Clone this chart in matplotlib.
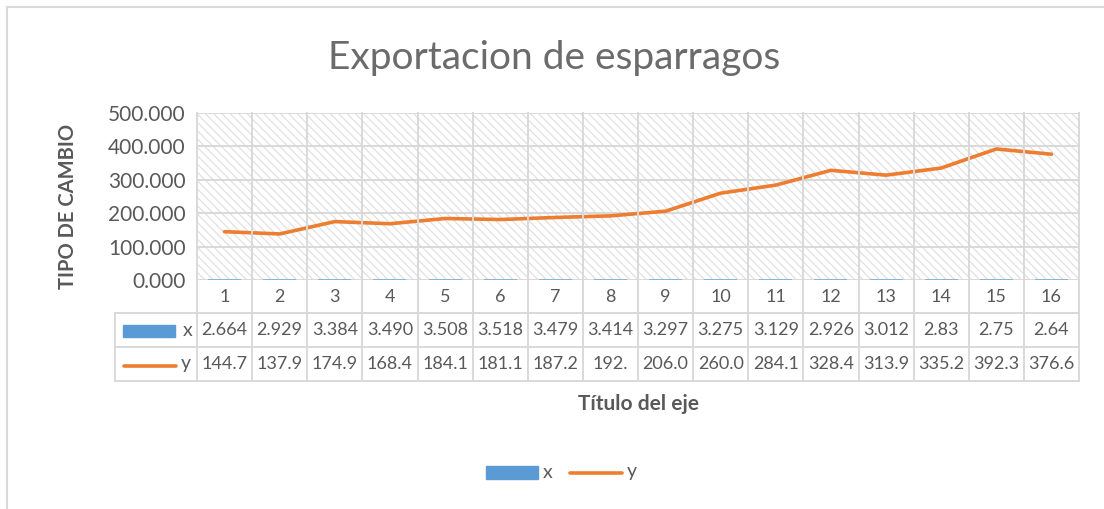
import matplotlib
matplotlib.use("Agg")
import matplotlib.pyplot as plt
import matplotlib.transforms as mtransforms
from matplotlib.patches import Rectangle
from matplotlib.lines import Line2D

# datos
periods = list(range(1, 17))
x_vals = [2.664, 2.929, 3.384, 3.490, 3.508, 3.518, 3.479, 3.414,
          3.297, 3.275, 3.129, 2.926, 3.012, 2.83, 2.75, 2.64]
y_vals = [144.7, 137.9, 174.9, 168.4, 184.1, 181.1, 187.2, 192.0,
          206.0, 260.0, 284.1, 328.4, 313.9, 335.2, 392.3, 376.6]
x_labels = ["2.664", "2.929", "3.384", "3.490", "3.508", "3.518", "3.479", "3.414",
            "3.297", "3.275", "3.129", "2.926", "3.012", "2.83", "2.75", "2.64"]
y_labels = ["144.7", "137.9", "174.9", "168.4", "184.1", "181.1", "187.2", "192.",
            "206.0", "260.0", "284.1", "328.4", "313.9", "335.2", "392.3", "376.6"]
y_ticks = [0, 100, 200, 300, 400, 500]

plt.rcParams['font.family'] = ['Lato', 'DejaVu Sans']
plt.rcParams['hatch.linewidth'] = 0.8
plt.rcParams['hatch.color'] = '#dedede'

W, H = 1104, 509
TXT = '#595959'
GRID = '#d9d9d9'
BLUE = '#5b9bd5'
ORANGE = '#ed7d31'

fig = plt.figure(figsize=(W / 100, H / 100), dpi=100)


def fx(px):
    return px / W


def fy(py):
    return 1 - py / H


L, R, T, B = 197, 1079, 113, 280
ax = fig.add_axes([fx(L), fy(B), fx(R - L), (B - T) / H])

# fondo rayado
ax.add_patch(Rectangle((0, 0), 1, 1, transform=ax.transAxes, facecolor='white',
                       hatch='\\\\\\\\', edgecolor='#dedede', lw=0, zorder=0))

ax.bar(periods, x_vals, width=0.6, color=BLUE, alpha=0.6, zorder=2)
ax.plot(periods, y_vals, color=ORANGE, lw=2.6, solid_capstyle='round', zorder=3)

ax.set_xlim(0.5, 16.5)
ax.set_ylim(0, 500)
ax.set_yticks(y_ticks)
ax.set_yticklabels([f"{v:.3f}" for v in y_ticks], fontsize=15, color=TXT)
ax.set_xticks([])
ax.tick_params(axis='y', length=0, pad=8)
for s in ax.spines.values():
    s.set_visible(False)
for v in y_ticks:
    ax.axhline(v, color=GRID, lw=1.4, zorder=1)

# tabla de datos
trans = mtransforms.blended_transform_factory(ax.transData, fig.transFigure)
rows = [280, 313, 347, 381]
for i in range(17):
    xb = 0.5 + i
    fig.add_artist(Line2D([xb, xb], [fy(T), fy(rows[-1])], transform=trans,
                          color=GRID, lw=1.4, zorder=1))
fig.add_artist(Line2D([0.5, 16.5], [fy(rows[1]), fy(rows[1])], transform=trans,
                      color=GRID, lw=1.4))
for r in rows[1:]:
    fig.add_artist(Line2D([fx(115), fx(L)], [fy(r), fy(r)], color=GRID, lw=1.4))
    fig.add_artist(Line2D([0.5, 16.5], [fy(r), fy(r)], transform=trans, color=GRID, lw=1.4))
fig.add_artist(Line2D([fx(115), fx(115)], [fy(rows[1]), fy(rows[-1])], color=GRID, lw=1.4))

for i, p in enumerate(periods):
    fig.text(p, fy((rows[0] + rows[1]) / 2), str(p), transform=trans, ha='center',
             va='center', fontsize=13, color=TXT)
    fig.text(p, fy((rows[1] + rows[2]) / 2), x_labels[i], transform=trans, ha='center',
             va='center', fontsize=13, color=TXT)
    fig.text(p, fy((rows[2] + rows[3]) / 2), y_labels[i], transform=trans, ha='center',
             va='center', fontsize=13, color=TXT)

# claves de leyenda en la tabla
fig.add_artist(Rectangle((fx(123), fy(337)), fx(52), 12 / H, color=BLUE))
fig.text(fx(183), fy(330), "x", ha='left', va='center', fontsize=14, color=TXT)
fig.add_artist(Line2D([fx(124), fx(176)], [fy(366), fy(366)], color=ORANGE, lw=2.6,
                      solid_capstyle='round'))
fig.text(fx(181), fy(364), "y", ha='left', va='center', fontsize=14, color=TXT)

# textos
fig.text(fx(554), fy(58), "Exportacion de esparragos", ha='center', va='center',
         fontsize=28, color='#6b6b6b')
fig.text(fx(68), fy(206), "TIPO DE CAMBIO", rotation=90, ha='center', va='center',
         fontsize=14.5, color=TXT, fontweight='bold')
fig.text(fx(638), fy(404), "Título del eje", ha='center', va='center',
         fontsize=15, color=TXT, fontweight='bold')

# leyenda inferior
fig.add_artist(Rectangle((fx(486), fy(479)), fx(52), 13 / H, color=BLUE))
fig.text(fx(543), fy(473), "x", ha='left', va='center', fontsize=14, color=TXT)
fig.add_artist(Line2D([fx(570), fx(622)], [fy(473), fy(473)], color=ORANGE, lw=2.6,
                      solid_capstyle='round'))
fig.text(fx(627), fy(472), "y", ha='left', va='center', fontsize=14, color=TXT)

# borde del grafico
fig.add_artist(Line2D([fx(7), fx(7)], [0, fy(7)], color=GRID, lw=1.5))
fig.add_artist(Line2D([fx(7), 1], [fy(7), fy(7)], color=GRID, lw=1.5))

fig.savefig("out.png", dpi=100)
